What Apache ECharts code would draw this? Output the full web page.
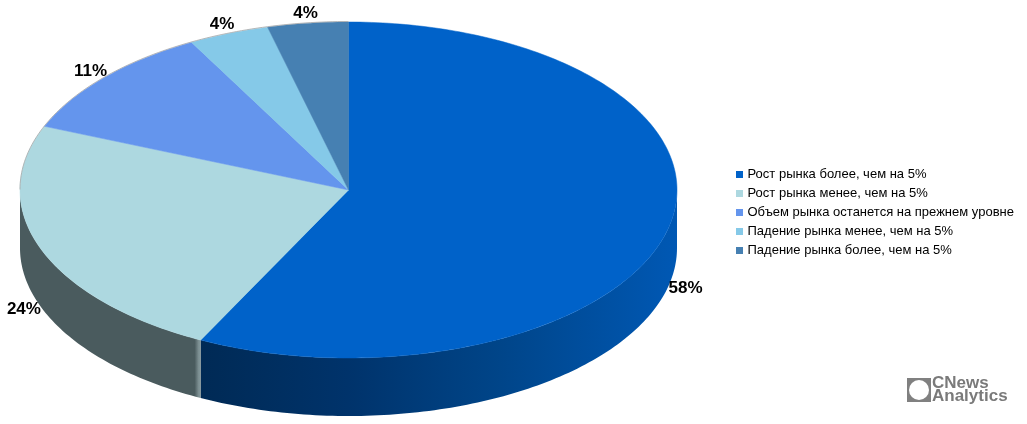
<!DOCTYPE html>
<html>
<head>
<meta charset="utf-8">
<title>Прогноз рынка</title>
<script src="https://cdn.jsdelivr.net/npm/echarts@6/dist/echarts.min.js"></script>
<style>
html, body { margin: 0; padding: 0; background: #fff; }
#main { width: 1027px; height: 424px; }
</style>
</head>
<body>
<div id="main"></div>
<script>
var categories = [
    'Рост рынка более, чем на 5%',
    'Рост рынка менее, чем на 5%',
    'Объем рынка останется на прежнем уровне',
    'Падение рынка менее, чем на 5%',
    'Падение рынка более, чем на 5%'
];
var values = [58, 24, 11, 4, 4];
var colors = ['#0062c9', '#add8e0', '#6495ed', '#85c9e8', '#4680b2'];

// ellipse of the pie top and height of the side wall
var cx = 348.5, cy = 190, rx = 328.5, ry = 168, depth = 58;

var total = values.reduce(function (a, b) { return a + b; }, 0);

// t in degrees, clockwise from 12 o'clock
function pt(t, dy) {
    var r = t * Math.PI / 180;
    return [cx + rx * Math.sin(r), cy - ry * Math.cos(r) + (dy || 0)];
}

function arc(from, to, dy) {
    var pts = [];
    var n = Math.max(2, Math.ceil(Math.abs(to - from)));
    for (var i = 0; i <= n; i++) {
        pts.push(pt(from + (to - from) * i / n, dy));
    }
    return pts;
}

function sideFill(index) {
    if (index === 0) {
        return {
            type: 'linear', global: true, x: 200, y: 0, x2: 677, y2: 0,
            colorStops: [
                { offset: 0, color: '#002a55' },
                { offset: 0.31, color: '#00336b' },
                { offset: 0.63, color: '#004589' },
                { offset: 1, color: '#0058b4' }
            ]
        };
    }
    return {
        type: 'linear', global: true, x: 20, y: 0, x2: 201, y2: 0,
        colorStops: [
            { offset: 0, color: '#4a5b5e' },
            { offset: 0.965, color: '#4a5b5e' },
            { offset: 0.99, color: '#84979a' },
            { offset: 1, color: '#6f8285' }
        ]
    };
}

function renderSlice(index) {
    return function (params, api) {
        var before = 0;
        for (var i = 0; i < index; i++) before += values[i];
        var start = before / total * 360;
        var end = (before + api.value(0)) / total * 360;
        var mid = (start + end) / 2;
        var children = [];

        // side wall, only the front half of the ellipse shows
        var sFrom = Math.max(start, 90), sTo = Math.min(end, 270);
        if (sTo > sFrom) {
            var wall = arc(sFrom, sTo, 0).concat(arc(sTo, sFrom, depth));
            children.push({
                type: 'polygon',
                shape: { points: wall },
                style: { fill: sideFill(index) }
            });
        }

        var top = [[cx, cy]].concat(arc(start, end, 0));
        children.push({
            type: 'polygon',
            shape: { points: top },
            style: { fill: colors[index], stroke: colors[index], lineWidth: 0.5 }
        });

        // back edge has a thin grey rim
        var bFrom = Math.max(start, 270);
        if (end > 270 && index > 0) {
            children.push({
                type: 'polyline',
                shape: { points: arc(bFrom, end, -0.5) },
                style: { fill: null, stroke: '#a8a8a8', lineWidth: 0.8 }
            });
        }

        var r = mid * Math.PI / 180;
        var p = pt(mid, 0);
        var front = mid > 90 && mid < 270;
        children.push({
            type: 'text',
            x: p[0] + 18 * Math.sin(r),
            y: p[1] - 10 * Math.cos(r) + (front ? depth - 1 : 0),
            style: {
                text: api.value(0) + '%',
                fill: '#000',
                align: 'center',
                verticalAlign: 'middle',
                font: 'bold 17px "Liberation Sans", Arial, sans-serif'
            }
        });

        return { type: 'group', children: children };
    };
}

var series = categories.map(function (name, i) {
    return {
        name: name,
        type: 'custom',
        coordinateSystem: 'none',
        silent: true,
        animation: false,
        itemStyle: { color: colors[i] },
        renderItem: renderSlice(i),
        data: [[values[i]]]
    };
});

var option = {
    backgroundColor: '#fff',
    animation: false,
    legend: {
        orient: 'vertical',
        left: 736,
        top: 168,
        padding: 0,
        itemWidth: 7,
        itemHeight: 7,
        itemGap: 6,
        icon: 'rect',
        selectedMode: false,
        data: categories,
        textStyle: {
            fontFamily: '"Liberation Sans", Arial, sans-serif',
            fontSize: 13,
            color: '#000',
            padding: [0, 0, 0, -0.5]
        }
    },
    graphic: {
        elements: [
            { type: 'rect', left: 907, top: 378, shape: { width: 24, height: 24 }, style: { fill: '#808080' } },
            { type: 'circle', left: 909, top: 380, shape: { r: 10 }, style: { fill: '#fff' } },
            { type: 'text', left: 932, top: 375, style: { text: 'CNews', fill: '#7a7a7a', font: 'bold 17px "Liberation Sans", Arial, sans-serif' } },
            { type: 'text', left: 932, top: 388, style: { text: 'Analytics', fill: '#7a7a7a', font: 'bold 17px "Liberation Sans", Arial, sans-serif' } }
        ]
    },
    series: series
};

echarts.init(document.getElementById('main'), null, { renderer: 'canvas' }).setOption(option);
</script>
</body>
</html>
